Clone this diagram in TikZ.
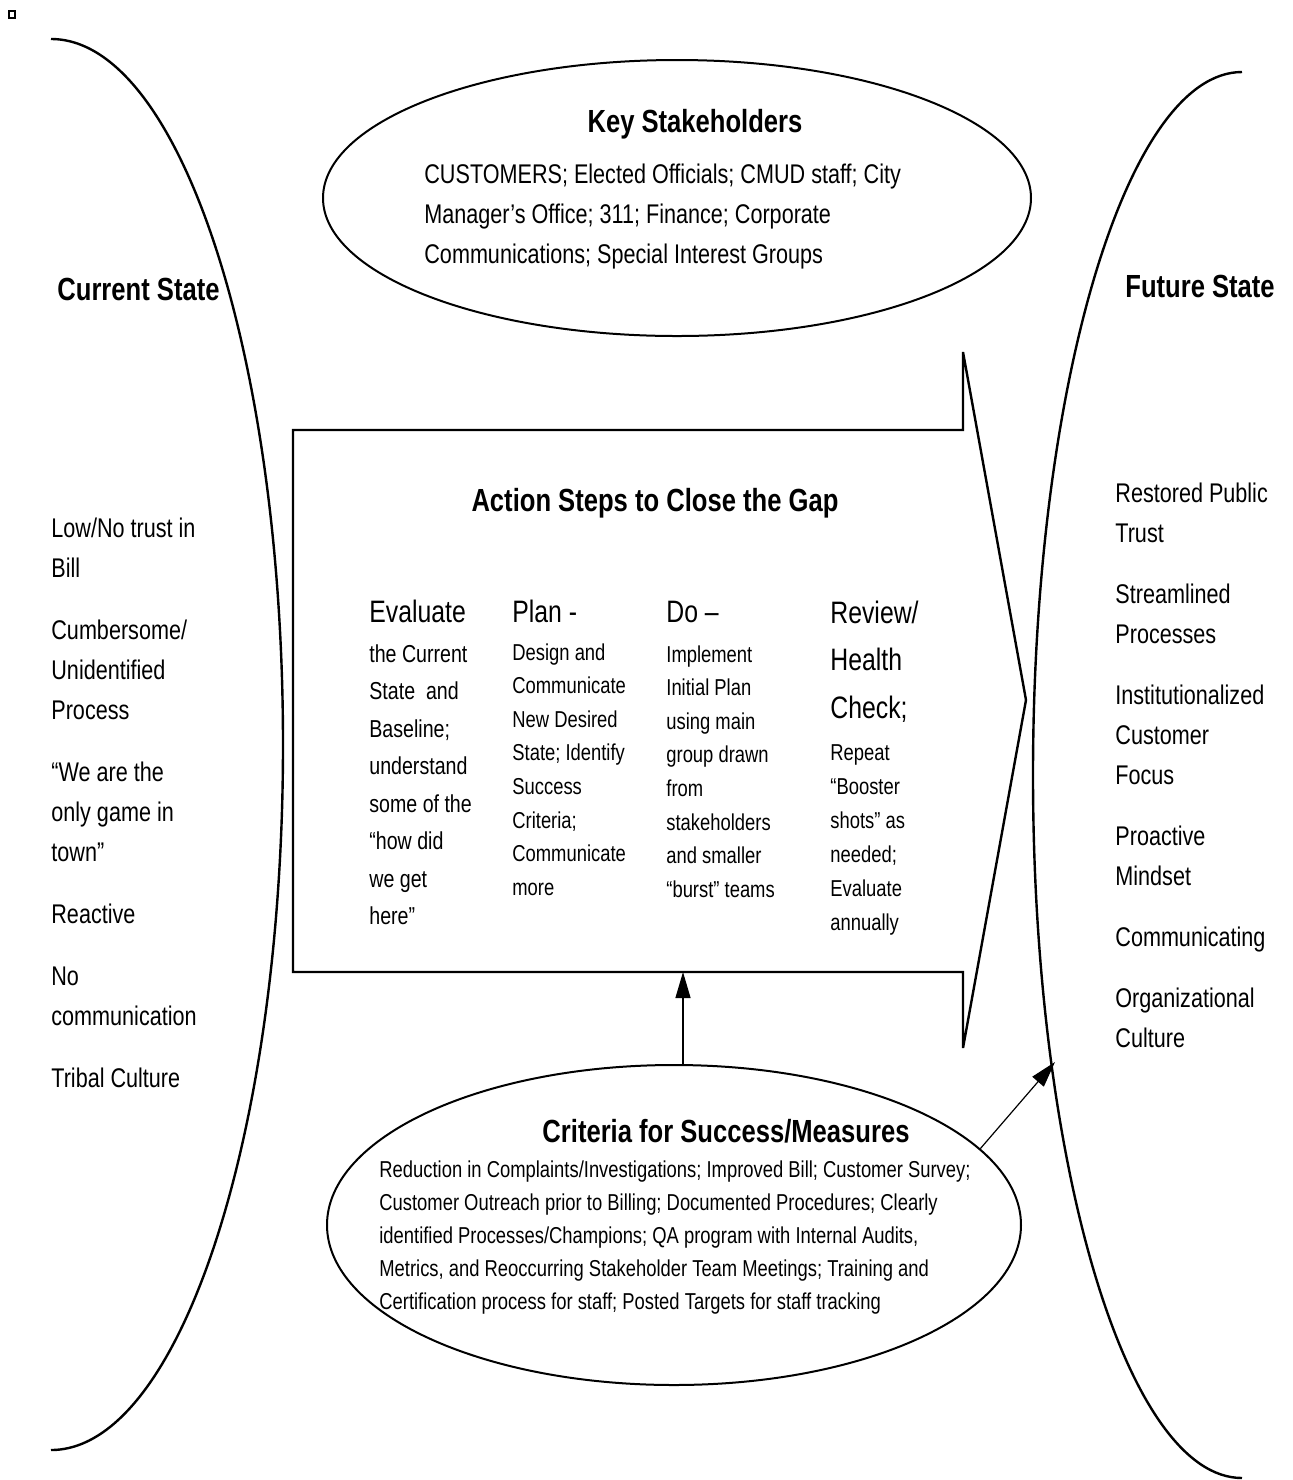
\documentclass[tikz,border=0pt]{standalone}
\usepackage{fontspec}
\setmainfont{Liberation Sans}[FakeStretch=0.8]
\usetikzlibrary{shapes.geometric,positioning,arrows.meta}
\tikzstyle{connector} = [line width=0.6pt, -{Triangle[length=13pt,width=7.5pt]}]
\tikzstyle{outline} = [line width=1.2pt]
\tikzstyle{bubble} = [ellipse, draw, line width=1pt, inner sep=0pt]
\tikzstyle{title} = [font=\bfseries\fontsize{16}{19}\selectfont, anchor=base, inner sep=0pt]
\tikzstyle{sidetitle} = [font=\bfseries\fontsize{16}{19}\selectfont, anchor=base west, inner sep=0pt]
\tikzstyle{listtext} = [font=\fontsize{13.5}{20}\selectfont, align=flush left, anchor=base west, inner sep=0pt, text width=90pt]
\tikzstyle{colhead} = [font=\fontsize{15.5}{23.75}\selectfont, align=flush left, anchor=base west, inner sep=0pt, text width=60pt]
\tikzstyle{colbody} = [font=\fontsize{11.5}{16.8}\selectfont, align=flush left, anchor=base west, inner sep=0pt, text width=70pt]

\begin{document}
\begin{tikzpicture}[x=0.5pt, y=-0.5pt]
    \useasboundingbox (0,0) rectangle (1293,1480);
    \draw[line width=0.8pt] (9,11) rectangle (15,18);

    % current and future state
    \draw[outline] (51,39) arc[start angle=-90, end angle=90, x radius=232, y radius=705.5];
    \draw[outline] (1242,72) arc[start angle=-90, end angle=-270, x radius=209, y radius=703];
    \node (cur) [sidetitle] at (57,300) {Current State};
    \node (fut) [sidetitle] at (1125,297) {Future State};
    \node (curlist) [listtext] at (51,537) {Low/No trust in\\Bill\\[11pt]Cumbersome/\\Unidentified\\Process\\[11pt]“We are the\\only game in\\town”\\[11pt]Reactive\\[11pt]No\\communication\\[11pt]Tribal Culture};
    \node (futlist) [listtext] at (1115,502) {Restored Public\\Trust\\[10.5pt]Streamlined\\Processes\\[10.5pt]Institutionalized\\Customer\\Focus\\[10.5pt]Proactive\\Mindset\\[10.5pt]Communicating\\[10.5pt]Organizational\\Culture};

    % stakeholders
    \node (stake) [bubble, minimum width=354pt, minimum height=138pt] at (677,198) {};
    \node (staketitle) [title] at (695,132) {Key Stakeholders};
    \node (stakelist) [listtext, text width=260pt] at (424,183) {CUSTOMERS; Elected Officials; CMUD staff; City\\Manager’s Office; 311; Finance; Corporate\\Communications; Special Interest Groups};

    % action steps
    \draw[outline] (293,430) -- (963,430) -- (963,352) -- (1026,700) -- (963,1048) -- (963,972) -- (293,972) -- cycle;
    \coordinate (gapbase) at (683,972);
    \node (gaptitle) [title] at (655,511) {Action Steps to Close the Gap};
    \node (evalhead) [colhead] at (369,622) {Evaluate};
    \node (evalbody) [colbody, font=\fontsize{12.25}{18.75}\selectfont] at (369,662) {the Current\\State\ \ and\\Baseline;\\understand\\some of the\\“how did\\we get\\here”};
    \node (planhead) [colhead] at (512,622) {Plan -};
    \node (planbody) [colbody] at (512,660) {Design and\\Communicate\\New Desired\\State; Identify\\Success\\Criteria;\\Communicate\\more};
    \node (dohead) [colhead] at (666,622) {Do –};
    \node (dobody) [colbody] at (666,662) {Implement\\Initial Plan\\using main\\group drawn\\from\\stakeholders\\and smaller\\“burst” teams};
    \node (revhead) [colhead] at (830,623) {Review/\\Health\\Check;};
    \node (revbody) [colbody, font=\fontsize{11.5}{17}\selectfont] at (830,760) {Repeat\\“Booster\\shots” as\\needed;\\Evaluate\\annually};

    % criteria
    \node (crit) [bubble, minimum width=347pt, minimum height=160pt] at (674,1225) {};
    \node (crittitle) [title] at (726,1142) {Criteria for Success/Measures};
    \node (critlist) [colbody, font=\fontsize{11.5}{16.5}\selectfont, text width=310pt] at (379,1177) {Reduction in Complaints/Investigations; Improved Bill; Customer Survey;\\Customer Outreach prior to Billing; Documented Procedures; Clearly\\identified Processes/Champions; QA program with Internal Audits,\\Metrics, and Reoccurring Stakeholder Team Meetings; Training and\\Certification process for staff; Posted Targets for staff tracking};
    \coordinate (futpoint) at (1055,1062);

    \draw [connector] (crit.north -| gapbase) -- (gapbase);
    \draw [connector] (crit.14) -- (futpoint);
\end{tikzpicture}
\end{document}
